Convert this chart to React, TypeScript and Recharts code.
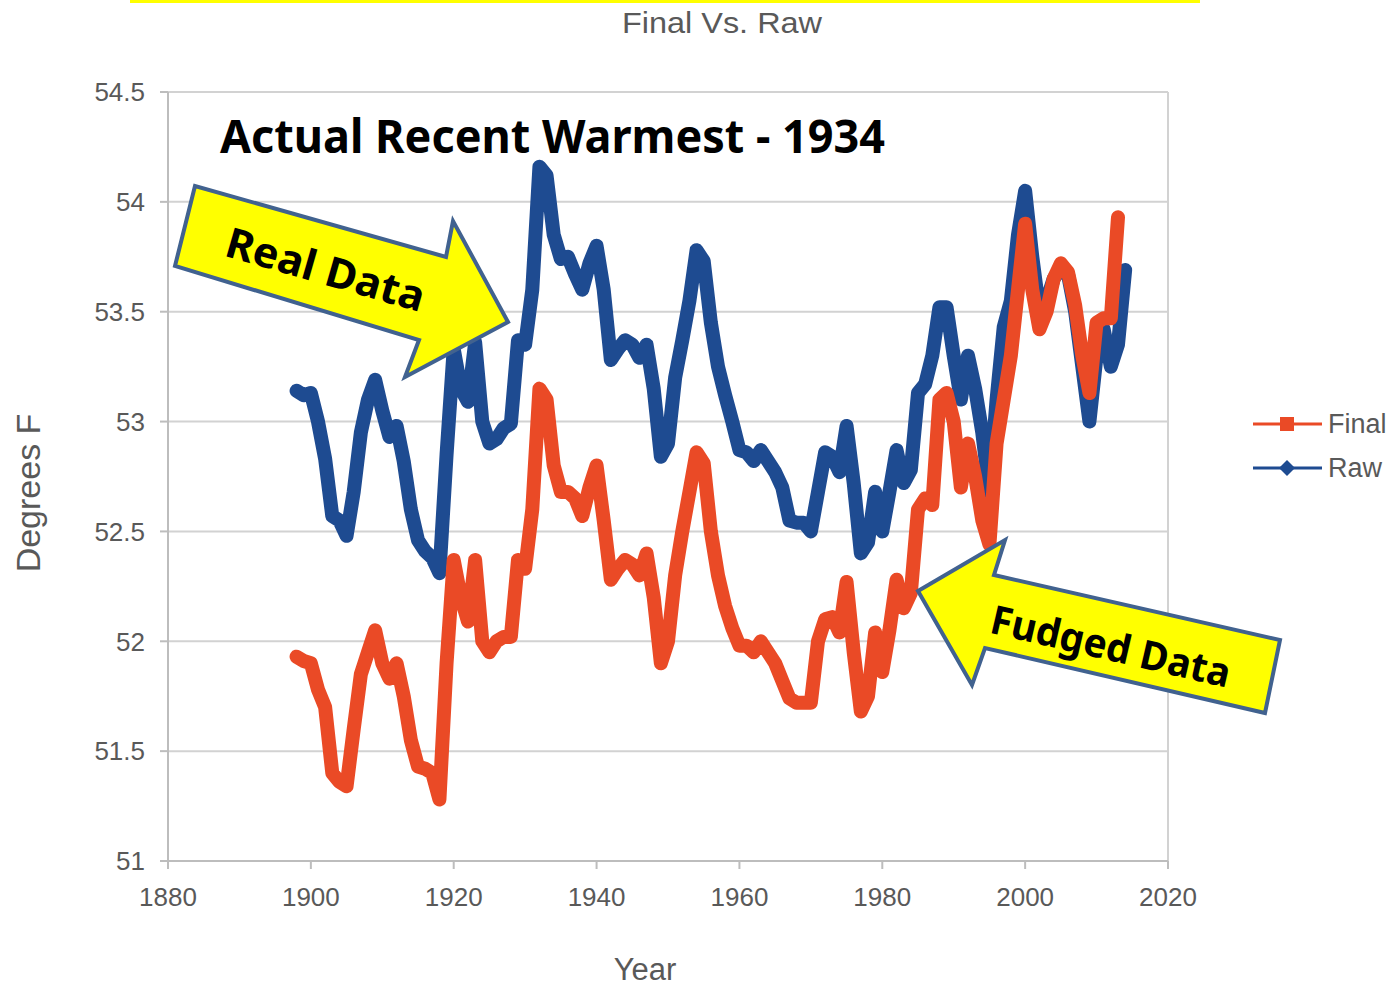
import { CartesianGrid, Line, LineChart, ReferenceLine, XAxis, YAxis } from "recharts"

const YEARS = [
  1898, 1899, 1900, 1901, 1902, 1903, 1904, 1905, 1906, 1907, 1908, 1909, 1910, 1911, 1912, 1913, 1914, 1915, 1916, 1917,
  1918, 1919, 1920, 1921, 1922, 1923, 1924, 1925, 1926, 1927, 1928, 1929, 1930, 1931, 1932, 1933, 1934, 1935, 1936, 1937,
  1938, 1939, 1940, 1941, 1942, 1943, 1944, 1945, 1946, 1947, 1948, 1949, 1950, 1951, 1952, 1953, 1954, 1955, 1956, 1957,
  1958, 1959, 1960, 1961, 1962, 1963, 1964, 1965, 1966, 1967, 1968, 1969, 1970, 1971, 1972, 1973, 1974, 1975, 1976, 1977,
  1978, 1979, 1980, 1981, 1982, 1983, 1984, 1985, 1986, 1987, 1988, 1989, 1990, 1991, 1992, 1993, 1994, 1995, 1996, 1997,
  1998, 1999, 2000, 2001, 2002, 2003, 2004, 2005, 2006, 2007, 2008, 2009, 2010, 2011, 2012, 2013, 2014,
]

// raw annual means, degrees F
const RAW = [
  53.14, 53.12, 53.13, 53.0, 52.83, 52.57, 52.55, 52.48, 52.68, 52.95, 53.1, 53.19, 53.05, 52.93, 52.98, 52.82, 52.6, 52.46, 52.41, 52.38,
  52.31, 52.85, 53.33, 53.15, 53.09, 53.36, 53.0, 52.9, 52.92, 52.97, 52.99, 53.37, 53.35, 53.6, 54.16, 54.12, 53.85, 53.74, 53.75, 53.67,
  53.6, 53.72, 53.8, 53.6, 53.28, 53.33, 53.37, 53.35, 53.29, 53.35, 53.15, 52.84, 52.9, 53.2, 53.37, 53.55, 53.78, 53.73, 53.45, 53.25,
  53.12, 53.0, 52.87, 52.86, 52.82, 52.87, 52.82, 52.77, 52.7, 52.55, 52.54, 52.54, 52.5, 52.68, 52.86, 52.84, 52.77, 52.98, 52.72, 52.4,
  52.45, 52.68, 52.5, 52.68, 52.87, 52.72, 52.78, 53.13, 53.17, 53.3, 53.52, 53.52, 53.3, 53.1, 53.3, 53.15, 52.95, 52.68, 53.1, 53.43,
  53.55, 53.85, 54.05, 53.75, 53.5, 53.55, 53.65, 53.7, 53.67, 53.5, 53.25, 53.0, 53.3, 53.42, 53.25, 53.35, 53.69,
]

// adjusted ("final") annual means, degrees F
const FINAL = [
  51.93, 51.91, 51.9, 51.78, 51.7, 51.4, 51.36, 51.34, 51.6, 51.85, 51.95, 52.05, 51.9, 51.83, 51.9, 51.75, 51.55, 51.43, 51.42, 51.4,
  51.28, 51.9, 52.37, 52.2, 52.09, 52.37, 52.0, 51.95, 52.0, 52.02, 52.02, 52.37, 52.33, 52.6, 53.15, 53.1, 52.8, 52.68, 52.68, 52.65,
  52.57, 52.7, 52.8, 52.55, 52.28, 52.33, 52.37, 52.35, 52.3, 52.4, 52.2, 51.9, 52.0, 52.3, 52.5, 52.68, 52.86, 52.81, 52.5, 52.3,
  52.16, 52.06, 51.98, 51.98, 51.95, 52.0, 51.95, 51.9, 51.82, 51.74, 51.72, 51.72, 51.72, 52.0, 52.1, 52.11, 52.04, 52.27, 51.95, 51.68,
  51.75, 52.04, 51.86, 52.05, 52.28, 52.15, 52.22, 52.6, 52.65, 52.62, 53.1, 53.13, 53.0, 52.7, 52.9, 52.75, 52.55, 52.44, 52.9, 53.1,
  53.3, 53.6, 53.9, 53.6, 53.42, 53.5, 53.65, 53.72, 53.68, 53.53, 53.3, 53.13, 53.45, 53.47, 53.47, 53.93,
]

const X_TICKS = [1880, 1900, 1920, 1940, 1960, 1980, 2000, 2020]
const Y_TICKS = [51, 51.5, 52, 52.5, 53, 53.5, 54, 54.5]

const ORANGE = "#ea4a26"
const BLUE = "#1e4b91"
const GREY_TEXT = "#595959"
const ARROW_FILL = "#ffff00"
const ARROW_EDGE = "#41628f"

const data = YEARS.map((year, i) => ({ year, raw: RAW[i], final: FINAL[i] ?? null }))

const tickStyle = { fill: GREY_TEXT, fontSize: 26, fontFamily: "Liberation Sans, Arial, sans-serif" }

function Overlay() {
  const bold = "Noto Sans, Open Sans, sans-serif"
  return (
    <svg width={1398} height={987} style={{ position: "absolute", left: 0, top: 0, pointerEvents: "none" }}>
      <rect x={130} y={0} width={1070} height={3} fill={ARROW_FILL} />
      <text x={722} y={33} textAnchor="middle" fontSize={30} fill={GREY_TEXT} fontFamily="Liberation Sans, Arial" textLength={200} lengthAdjust="spacingAndGlyphs">
        Final Vs. Raw
      </text>
      <text x={28} y={493} transform="rotate(-90 28 493)" textAnchor="middle" dominantBaseline="central" fontSize={34} fill={GREY_TEXT} fontFamily="Liberation Sans, Arial">
        Degrees F
      </text>
      <text x={645} y={980} textAnchor="middle" fontSize={31} fill={GREY_TEXT} fontFamily="Liberation Sans, Arial">
        Year
      </text>

      {/* legend */}
      <line x1={1253} y1={424} x2={1322} y2={424} stroke={ORANGE} strokeWidth={3} />
      <rect x={1280} y={417} width={14} height={14} fill={ORANGE} />
      <text x={1328} y={433} fontSize={27} fill={GREY_TEXT} fontFamily="Liberation Sans, Arial">Final</text>
      <line x1={1253} y1={468} x2={1322} y2={468} stroke={BLUE} strokeWidth={3} />
      <polygon points="1287,460 1295,468 1287,476 1279,468" fill={BLUE} />
      <text x={1328} y={477} fontSize={27} fill={GREY_TEXT} fontFamily="Liberation Sans, Arial">Raw</text>

      {/* annotations */}
      <text x={220} y={153} fontSize={46} fontWeight="bold" fill="#000" fontFamily={bold} textLength={665} lengthAdjust="spacingAndGlyphs">
        Actual Recent Warmest - 1934
      </text>
      <polygon points="175,266 195,186 446,257 453,221 508,322 405,377 419,340" fill={ARROW_FILL} stroke={ARROW_EDGE} strokeWidth={4} strokeLinejoin="miter" />
      <text x={326} y={268} transform="rotate(16 326 268)" textAnchor="middle" dominantBaseline="central" fontSize={42} fontWeight="bold" fill="#000" fontFamily={bold} textLength={205} lengthAdjust="spacingAndGlyphs">
        Real Data
      </text>
      <polygon points="918,591 1005,540 994,575 1280,640 1265,713 985,648 972,685" fill={ARROW_FILL} stroke={ARROW_EDGE} strokeWidth={4} strokeLinejoin="miter" />
      <text x={1111} y={645} transform="rotate(13 1111 645)" textAnchor="middle" dominantBaseline="central" fontSize={40} fontWeight="bold" fill="#000" fontFamily={bold} textLength={245} lengthAdjust="spacingAndGlyphs">
        Fudged Data
      </text>
    </svg>
  )
}

export default function App() {
  return (
    <div style={{ position: "absolute", left: 0, top: 0, width: 1398, height: 987, background: "#fff" }}>
      <LineChart width={1398} height={987} data={data} margin={{ top: 92, right: 230, bottom: 0, left: 0 }}>
        <CartesianGrid vertical={false} stroke="#d2d2d2" strokeWidth={2} />
        <XAxis
          dataKey="year"
          type="number"
          domain={[1880, 2020]}
          ticks={X_TICKS}
          height={126}
          tick={tickStyle}
          tickSize={8}
          tickMargin={19}
          stroke="#bdbdbd"
          strokeWidth={2}
        />
        <YAxis
          type="number"
          domain={[51, 54.5]}
          ticks={Y_TICKS}
          width={168}
          tick={tickStyle}
          tickSize={8}
          tickMargin={15}
          stroke="#bdbdbd"
          strokeWidth={2}
          allowDataOverflow
        />
        <ReferenceLine x={2020} stroke="#d2d2d2" strokeWidth={2} />
        <Line
          dataKey="raw"
          name="Raw"
          type="linear"
          stroke={BLUE}
          strokeWidth={14}
          strokeLinejoin="round"
          strokeLinecap="round"
          dot={false}
          isAnimationActive={false}
        />
        <Line
          dataKey="final"
          name="Final"
          type="linear"
          stroke={ORANGE}
          strokeWidth={14}
          strokeLinejoin="round"
          strokeLinecap="round"
          dot={false}
          isAnimationActive={false}
        />
      </LineChart>
      <Overlay />
    </div>
  )
}
